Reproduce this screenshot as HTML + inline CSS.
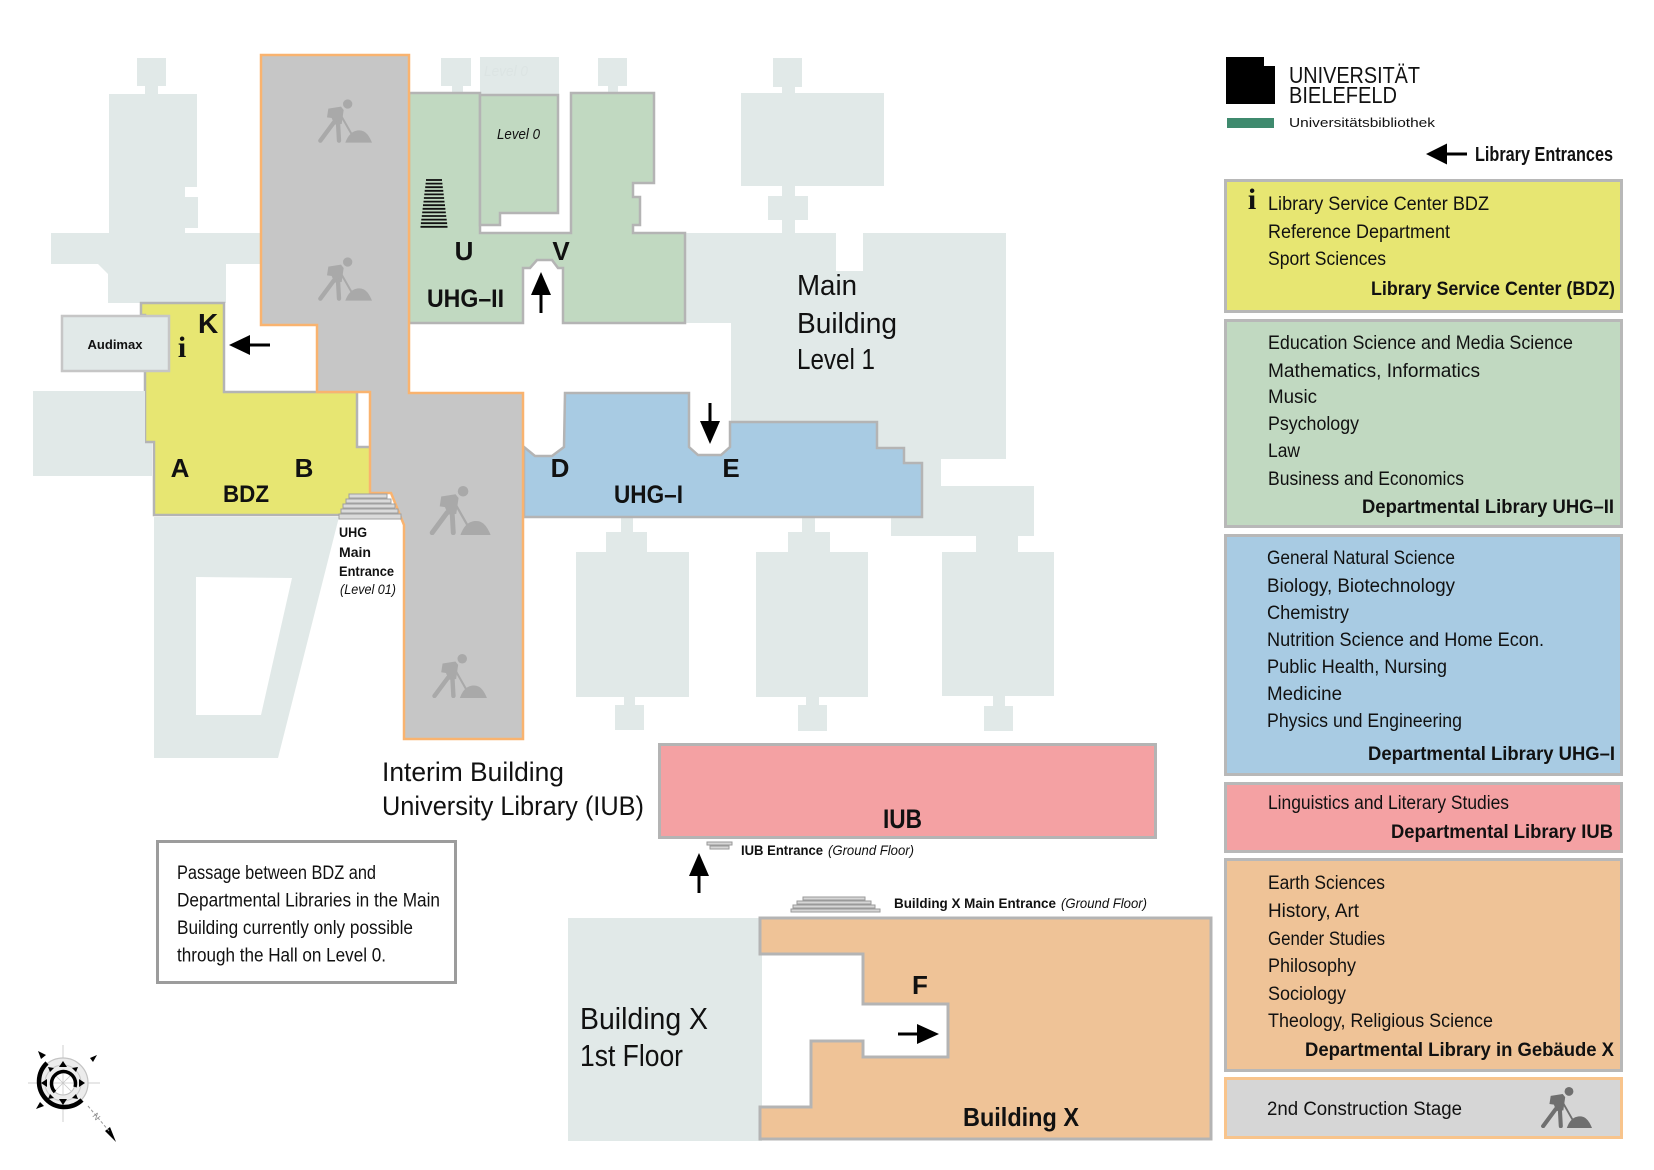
<!DOCTYPE html>
<html>
<head>
<meta charset="utf-8">
<style>
html,body{margin:0;padding:0;background:#fff;}
svg{display:block;}
text{font-family:"Liberation Sans Narrow","Liberation Sans",sans-serif;fill:#111;}
.b{font-weight:bold;}
.it{font-style:italic;}
</style>
</head>
<body>
<svg width="1654" height="1170" viewBox="0 0 1654 1170" xmlns="http://www.w3.org/2000/svg">
<defs>
<symbol id="w" viewBox="0 0 165 130">
 <circle cx="92" cy="14" r="14" fill="currentColor"/>
 <path d="M34,28 L72,22 L80,32 L74,74 L52,76 L44,56 L30,54 Z" fill="currentColor"/>
 <line x1="50" y1="70" x2="10" y2="124" stroke="currentColor" stroke-width="13" stroke-linecap="round"/>
 <line x1="63" y1="70" x2="66" y2="124" stroke="currentColor" stroke-width="13" stroke-linecap="round"/>
 <line x1="70" y1="45" x2="108" y2="112" stroke="currentColor" stroke-width="6"/>
 <path d="M85,130 C95,102 110,93 127,93 C146,93 157,110 165,130 Z" fill="currentColor"/>
</symbol>
</defs>

<rect width="1654" height="1170" fill="#fff"/>

<!-- ===== light context buildings ===== -->
<g fill="#e1e9e8">
 <rect x="137" y="58" width="29" height="28"/>
 <rect x="145" y="85" width="13" height="10"/>
 <path d="M109,94 H197 V187 H185 V197 H198 V228 H185 V233 H261 V264 H226 V303 H108 V274 L98,264 H51 V233 H109 Z"/>
 <rect x="33" y="391" width="119" height="85"/>
 <path fill-rule="evenodd" d="M154,517 H339 L278,758 H154 Z M196,577 L292,578 L261,715 H196 Z"/>
 <rect x="441" y="58" width="30" height="28"/>
 <rect x="452" y="85" width="11" height="9"/>
 <rect x="480" y="57" width="79" height="38"/>
 <rect x="598" y="58" width="29" height="28"/>
 <rect x="608" y="85" width="10" height="9"/>
 <rect x="773" y="58" width="29" height="29"/>
 <rect x="782" y="86" width="13" height="8"/>
 <rect x="741" y="93" width="143" height="93"/>
 <rect x="782" y="185" width="13" height="12"/>
 <rect x="768" y="196" width="40" height="24"/>
 <rect x="782" y="219" width="13" height="15"/>
 <path d="M685,233 H836 V271 H863 V233 H1006 V459 H941 V486 H1034 V536 H891 V486 H874 V422 H731 V323 H685 Z"/>
 <rect x="576" y="552" width="113" height="145"/>
 <rect x="606" y="532" width="41" height="21"/>
 <rect x="621" y="515" width="12" height="18"/>
 <rect x="624" y="696" width="11" height="10"/>
 <rect x="615" y="705" width="29" height="25"/>
 <rect x="756" y="552" width="112" height="145"/>
 <rect x="788" y="532" width="42" height="21"/>
 <rect x="802" y="515" width="13" height="18"/>
 <rect x="806" y="696" width="13" height="10"/>
 <rect x="798" y="705" width="29" height="26"/>
 <rect x="942" y="552" width="112" height="144"/>
 <rect x="976" y="535" width="42" height="18"/>
 <rect x="993" y="695" width="12" height="12"/>
 <rect x="984" y="706" width="29" height="25"/>
 <rect x="568" y="918" width="194" height="223"/>
</g>
<text x="484" y="76" class="it" font-size="15" style="fill:#dce4e3" textLength="44" lengthAdjust="spacingAndGlyphs">Level 0</text>

<!-- ===== BDZ yellow ===== -->
<path d="M141,303 H224 V392 H357 V447 H372 V515 H154 V442 H145 V315 H141 Z" fill="#e7e672" stroke="#b4b4b4" stroke-width="2.5"/>
<rect x="33" y="391" width="112" height="85" fill="#e1e9e8"/>
<!-- Audimax -->
<rect x="62" y="316" width="107" height="55" fill="#e1e9e8" stroke="#c6c6c6" stroke-width="2.5"/>
<text x="115" y="349" font-size="13" class="b" text-anchor="middle">Audimax</text>

<!-- ===== UHG-II green ===== -->
<path d="M409,93 H480 V233 H571 V93 H654 V183 H633 V197 H640 V225 H633 V233 H685 V323 H563 V268 L558,268 L552,260 L537,260 L530,268 L523,268 V323 H409 Z" fill="#c1d9c1" stroke="#b4b4b4" stroke-width="2.5"/>
<path d="M480,95 H558 V213 H500 V225 H480 Z" fill="#c1d9c1" stroke="#b4b4b4" stroke-width="2.5"/>
<text x="497" y="139" class="it" font-size="15" textLength="43" lengthAdjust="spacingAndGlyphs">Level 0</text>
<g stroke="#111" stroke-width="1.8">
 <line x1="426" y1="180" x2="442" y2="180"/>
 <line x1="425.6" y1="183.6" x2="442.4" y2="183.6"/>
 <line x1="425.2" y1="187.2" x2="442.8" y2="187.2"/>
 <line x1="424.7" y1="190.8" x2="443.3" y2="190.8"/>
 <line x1="424.3" y1="194.4" x2="443.7" y2="194.4"/>
 <line x1="423.9" y1="198" x2="444.1" y2="198"/>
 <line x1="423.5" y1="201.6" x2="444.5" y2="201.6"/>
 <line x1="423" y1="205.2" x2="445" y2="205.2"/>
 <line x1="422.6" y1="208.8" x2="445.4" y2="208.8"/>
 <line x1="422.2" y1="212.4" x2="445.8" y2="212.4"/>
 <line x1="421.8" y1="216" x2="446.2" y2="216"/>
 <line x1="421.3" y1="219.6" x2="446.7" y2="219.6"/>
 <line x1="420.9" y1="223.2" x2="447.1" y2="223.2"/>
 <line x1="420.5" y1="226.8" x2="447.5" y2="226.8"/>
</g>

<!-- ===== UHG-I blue ===== -->
<path d="M565,393 H689 V447 L698,455 H721 L730,447 V422 H877 V448 H904 V463 H922 V517 H524 V447 L535,456 H552 L564,447 Z" fill="#a8cbe3" stroke="#b4b4b4" stroke-width="2.5"/>

<!-- ===== Construction gray ===== -->
<path d="M261,55 H409 V393 H523 V739 H404 V525 L391,493 H370 V392 H317 V325 H261 Z" fill="#c6c6c6" stroke="#f9b36f" stroke-width="2.5"/>
<use href="#w" x="317" y="99" width="55" height="44" color="#a9a9a9"/>
<use href="#w" x="317" y="257" width="55" height="44" color="#a9a9a9"/>
<use href="#w" x="428" y="486" width="63" height="49" color="#a9a9a9"/>
<use href="#w" x="431" y="654" width="56" height="44" color="#a9a9a9"/>

<!-- UHG main entrance stairs -->
<g fill="#dadada" stroke="#a0a0a0" stroke-width="1">
 <rect x="349" y="494" width="38" height="4"/>
 <rect x="346" y="499" width="45" height="4"/>
 <rect x="343" y="504" width="52" height="4"/>
 <rect x="341" y="509" width="57" height="4"/>
 <rect x="339" y="514" width="62" height="5"/>
</g>

<!-- ===== IUB pink ===== -->
<rect x="659.5" y="744.5" width="496" height="93" fill="#f4a1a3" stroke="#b4b4b4" stroke-width="3"/>
<g fill="#d6d6d6" stroke="#9a9a9a" stroke-width="1">
 <rect x="707" y="842" width="25" height="3"/>
 <rect x="710" y="846" width="19" height="3"/>
</g>

<!-- ===== Building X orange ===== -->
<path d="M760,918 H1211 V1139 H760 V1107 H811 V1041 H863 V1057 H948 V1004 H863 V954 H760 Z" fill="#efc397" stroke="#b4b4b4" stroke-width="3"/>
<g fill="#d6d6d6" stroke="#9a9a9a" stroke-width="1">
 <rect x="803" y="897" width="62" height="3"/>
 <rect x="797" y="901" width="74" height="3"/>
 <rect x="793" y="905" width="82" height="3"/>
 <rect x="791" y="909" width="89" height="3"/>
</g>

<!-- ===== arrows ===== -->
<g fill="#000" stroke="#000">
 <line x1="270" y1="345" x2="245" y2="345" stroke-width="3"/>
 <polygon points="229,345 250,335 250,355" stroke="none"/>
 <line x1="541" y1="313" x2="541" y2="290" stroke-width="3"/>
 <polygon points="541,272 531,295 551,295" stroke="none"/>
 <line x1="710" y1="403" x2="710" y2="425" stroke-width="3"/>
 <polygon points="710,444 700,421 720,421" stroke="none"/>
 <line x1="699" y1="893" x2="699" y2="870" stroke-width="3"/>
 <polygon points="699,853 689,876 709,876" stroke="none"/>
 <line x1="898" y1="1034" x2="920" y2="1034" stroke-width="3"/>
 <polygon points="939,1034 917,1024 917,1044" stroke="none"/>
 <line x1="1467" y1="154" x2="1440" y2="154" stroke-width="3"/>
 <polygon points="1426,154 1447,143.5 1447,164.5" stroke="none"/>
</g>

<!-- ===== map labels ===== -->
<text x="198" y="333" font-size="28" class="b">K</text>
<text x="182" y="357" font-size="30" class="b" text-anchor="middle" style="font-family:'Liberation Serif',serif">i</text>
<text x="180" y="477" font-size="26" class="b" text-anchor="middle">A</text>
<text x="304" y="477" font-size="26" class="b" text-anchor="middle">B</text>
<text x="223" y="502" font-size="24" class="b" textLength="46" lengthAdjust="spacingAndGlyphs">BDZ</text>
<text x="464" y="260" font-size="26" class="b" text-anchor="middle">U</text>
<text x="561" y="260" font-size="26" class="b" text-anchor="middle">V</text>
<text x="427" y="307" font-size="25" class="b" textLength="77" lengthAdjust="spacingAndGlyphs">UHG–II</text>
<text x="560" y="477" font-size="26" class="b" text-anchor="middle">D</text>
<text x="731" y="477" font-size="26" class="b" text-anchor="middle">E</text>
<text x="614" y="503" font-size="25" class="b" textLength="69" lengthAdjust="spacingAndGlyphs">UHG–I</text>
<text x="797" y="295" font-size="29" textLength="60" lengthAdjust="spacingAndGlyphs">Main</text>
<text x="797" y="333" font-size="29" textLength="100" lengthAdjust="spacingAndGlyphs">Building</text>
<text x="797" y="369" font-size="29" textLength="78" lengthAdjust="spacingAndGlyphs">Level 1</text>
<text x="339" y="537" font-size="14" class="b" textLength="28" lengthAdjust="spacingAndGlyphs">UHG</text>
<text x="339" y="557" font-size="14" class="b" textLength="32" lengthAdjust="spacingAndGlyphs">Main</text>
<text x="339" y="576" font-size="14" class="b" textLength="55" lengthAdjust="spacingAndGlyphs">Entrance</text>
<text x="340" y="594" font-size="14" class="it" textLength="56" lengthAdjust="spacingAndGlyphs">(Level 01)</text>
<text x="382" y="781" font-size="27" textLength="182" lengthAdjust="spacingAndGlyphs">Interim Building</text>
<text x="382" y="815" font-size="27" textLength="262" lengthAdjust="spacingAndGlyphs">University Library (IUB)</text>
<text x="883" y="828" font-size="27" class="b" textLength="39" lengthAdjust="spacingAndGlyphs">IUB</text>
<text x="741" y="855" font-size="14" class="b" textLength="82" lengthAdjust="spacingAndGlyphs">IUB Entrance</text>
<text x="828" y="855" font-size="14" class="it" textLength="86" lengthAdjust="spacingAndGlyphs">(Ground Floor)</text>
<text x="894" y="908" font-size="14" class="b" textLength="162" lengthAdjust="spacingAndGlyphs">Building X Main Entrance</text>
<text x="1061" y="908" font-size="14" class="it" textLength="86" lengthAdjust="spacingAndGlyphs">(Ground Floor)</text>
<text x="580" y="1029" font-size="31" textLength="128" lengthAdjust="spacingAndGlyphs">Building X</text>
<text x="580" y="1066" font-size="31" textLength="103" lengthAdjust="spacingAndGlyphs">1st Floor</text>
<text x="920" y="994" font-size="26" class="b" text-anchor="middle">F</text>
<text x="963" y="1126" font-size="26" class="b" textLength="116" lengthAdjust="spacingAndGlyphs">Building X</text>

<!-- ===== passage note ===== -->
<rect x="157.5" y="841.5" width="298" height="141" fill="#fff" stroke="#9c9c9c" stroke-width="3"/>
<text x="177" y="879" font-size="19" textLength="199" lengthAdjust="spacingAndGlyphs">Passage between BDZ and</text>
<text x="177" y="906.5" font-size="19" textLength="263" lengthAdjust="spacingAndGlyphs">Departmental Libraries in the Main</text>
<text x="177" y="934" font-size="19" textLength="236" lengthAdjust="spacingAndGlyphs">Building currently only possible</text>
<text x="177" y="961.5" font-size="19" textLength="209" lengthAdjust="spacingAndGlyphs">through the Hall on Level 0.</text>

<!-- ===== compass ===== -->
<g>
 <line x1="63" y1="1045" x2="63" y2="1122" stroke="#cfcfcf" stroke-width="1"/>
 <line x1="28" y1="1083" x2="100" y2="1083" stroke="#cfcfcf" stroke-width="1"/>
 <circle cx="63" cy="1083" r="25" fill="#ececec" stroke="#c4c4c4" stroke-width="1.2"/>
 <circle cx="63" cy="1083" r="18" fill="none" stroke="#c8c8c8" stroke-width="1"/>
 <circle cx="63" cy="1083" r="12" fill="#fff" stroke="#bdbdbd" stroke-width="1"/>
 <g stroke="#c8c8c8" stroke-width="0.8">
  <line x1="63" y1="1071" x2="63" y2="1095"/>
  <line x1="51" y1="1083" x2="75" y2="1083"/>
  <line x1="54.5" y1="1074.5" x2="71.5" y2="1091.5"/>
  <line x1="71.5" y1="1074.5" x2="54.5" y2="1091.5"/>
 </g>
 <path d="M47,1063 A24,24 0 1 0 82,1100" fill="none" stroke="#000" stroke-width="4.5"/>
 <path d="M55,1092 A12,12 0 1 1 75,1087" fill="none" stroke="#000" stroke-width="3.5"/>
 <g fill="#000">
  <polygon points="63,1061 59,1067 67,1067"/>
  <polygon points="63,1105 59,1099 67,1099"/>
  <polygon points="41,1083 47,1079 47,1087"/>
  <polygon points="85,1083 79,1079 79,1087"/>
  <polygon points="48,1067 54,1068 50,1072"/>
  <polygon points="78,1067 72,1068 76,1072"/>
  <polygon points="48,1099 54,1098 50,1094"/>
  <polygon points="78,1099 72,1098 76,1094"/>
  <polygon points="38,1051 46,1055 41,1059"/>
  <polygon points="97,1055 90,1058 93,1062"/>
  <polygon points="36,1109 40,1102 44,1106"/>
  <polygon points="116,1142 105,1131 110,1127"/>
 </g>
 <line x1="88" y1="1106" x2="109" y2="1131" stroke="#999" stroke-width="1" stroke-dasharray="3,2"/>
 <text x="92" y="1116" font-size="9" style="fill:#888" transform="rotate(50 92 1116)">N</text>
</g>

<!-- ===== logo ===== -->
<polygon points="1226,57 1264,57 1264,66 1275,66 1275,104 1226,104" fill="#000"/>
<rect x="1227" y="118" width="47" height="10" fill="#3f8a6e"/>
<text x="1289" y="83" font-size="23" textLength="131" lengthAdjust="spacingAndGlyphs">UNIVERSITÄT</text>
<text x="1289" y="103" font-size="23" textLength="108" lengthAdjust="spacingAndGlyphs">BIELEFELD</text>
<text x="1289" y="127" font-size="13" textLength="146" lengthAdjust="spacingAndGlyphs">Universitätsbibliothek</text>
<text x="1475" y="161" font-size="20" class="b" textLength="138" lengthAdjust="spacingAndGlyphs">Library Entrances</text>

<!-- ===== legend ===== -->
<rect x="1225.5" y="180.5" width="396" height="131" fill="#e7e672" stroke="#b8b8b8" stroke-width="3"/>
<text x="1252" y="209" font-size="30" class="b" text-anchor="middle" style="font-family:'Liberation Serif',serif">i</text>
<text x="1268" y="210" font-size="19" textLength="221" lengthAdjust="spacingAndGlyphs">Library Service Center BDZ</text>
<text x="1268" y="238" font-size="19" textLength="182" lengthAdjust="spacingAndGlyphs">Reference Department</text>
<text x="1268" y="265" font-size="19" textLength="118" lengthAdjust="spacingAndGlyphs">Sport Sciences</text>
<text x="1371" y="295" font-size="19" class="b" textLength="244" lengthAdjust="spacingAndGlyphs">Library Service Center (BDZ)</text>

<rect x="1225.5" y="320.5" width="396" height="206" fill="#c1d9c1" stroke="#b8b8b8" stroke-width="3"/>
<text x="1268" y="349" font-size="19" textLength="305" lengthAdjust="spacingAndGlyphs">Education Science and Media Science</text>
<text x="1268" y="377" font-size="19" textLength="212" lengthAdjust="spacingAndGlyphs">Mathematics, Informatics</text>
<text x="1268" y="403" font-size="19" textLength="49" lengthAdjust="spacingAndGlyphs">Music</text>
<text x="1268" y="430" font-size="19" textLength="91" lengthAdjust="spacingAndGlyphs">Psychology</text>
<text x="1268" y="457" font-size="19" textLength="32" lengthAdjust="spacingAndGlyphs">Law</text>
<text x="1268" y="485" font-size="19" textLength="196" lengthAdjust="spacingAndGlyphs">Business and Economics</text>
<text x="1362" y="513" font-size="19" class="b" textLength="252" lengthAdjust="spacingAndGlyphs">Departmental Library UHG–II</text>

<rect x="1225.5" y="535.5" width="396" height="239" fill="#a8cbe3" stroke="#b8b8b8" stroke-width="3"/>
<text x="1267" y="564" font-size="19" textLength="188" lengthAdjust="spacingAndGlyphs">General Natural Science</text>
<text x="1267" y="592" font-size="19" textLength="188" lengthAdjust="spacingAndGlyphs">Biology, Biotechnology</text>
<text x="1267" y="619" font-size="19" textLength="82" lengthAdjust="spacingAndGlyphs">Chemistry</text>
<text x="1267" y="646" font-size="19" textLength="277" lengthAdjust="spacingAndGlyphs">Nutrition Science and Home Econ.</text>
<text x="1267" y="673" font-size="19" textLength="180" lengthAdjust="spacingAndGlyphs">Public Health, Nursing</text>
<text x="1267" y="700" font-size="19" textLength="75" lengthAdjust="spacingAndGlyphs">Medicine</text>
<text x="1267" y="727" font-size="19" textLength="195" lengthAdjust="spacingAndGlyphs">Physics und Engineering</text>
<text x="1368" y="760" font-size="19" class="b" textLength="247" lengthAdjust="spacingAndGlyphs">Departmental Library UHG–I</text>

<rect x="1225.5" y="783.5" width="396" height="68" fill="#f4a1a3" stroke="#b8b8b8" stroke-width="3"/>
<text x="1268" y="809" font-size="19" textLength="241" lengthAdjust="spacingAndGlyphs">Linguistics and Literary Studies</text>
<text x="1391" y="838" font-size="19" class="b" textLength="222" lengthAdjust="spacingAndGlyphs">Departmental Library IUB</text>

<rect x="1225.5" y="859.5" width="396" height="211" fill="#efc397" stroke="#b8b8b8" stroke-width="3"/>
<text x="1268" y="889" font-size="19" textLength="117" lengthAdjust="spacingAndGlyphs">Earth Sciences</text>
<text x="1268" y="917" font-size="19" textLength="91" lengthAdjust="spacingAndGlyphs">History, Art</text>
<text x="1268" y="945" font-size="19" textLength="117" lengthAdjust="spacingAndGlyphs">Gender Studies</text>
<text x="1268" y="972" font-size="19" textLength="88" lengthAdjust="spacingAndGlyphs">Philosophy</text>
<text x="1268" y="1000" font-size="19" textLength="78" lengthAdjust="spacingAndGlyphs">Sociology</text>
<text x="1268" y="1027" font-size="19" textLength="225" lengthAdjust="spacingAndGlyphs">Theology, Religious Science</text>
<text x="1305" y="1056" font-size="19" class="b" textLength="309" lengthAdjust="spacingAndGlyphs">Departmental Library in Gebäude X</text>

<rect x="1225.5" y="1078.5" width="396" height="59" fill="#d6d6d6" stroke="#f8c48c" stroke-width="3"/>
<text x="1267" y="1115" font-size="19" textLength="195" lengthAdjust="spacingAndGlyphs">2nd Construction Stage</text>
<use href="#w" x="1540" y="1087" width="52" height="41" color="#6f6f6f"/>
</svg>
</body>
</html>
